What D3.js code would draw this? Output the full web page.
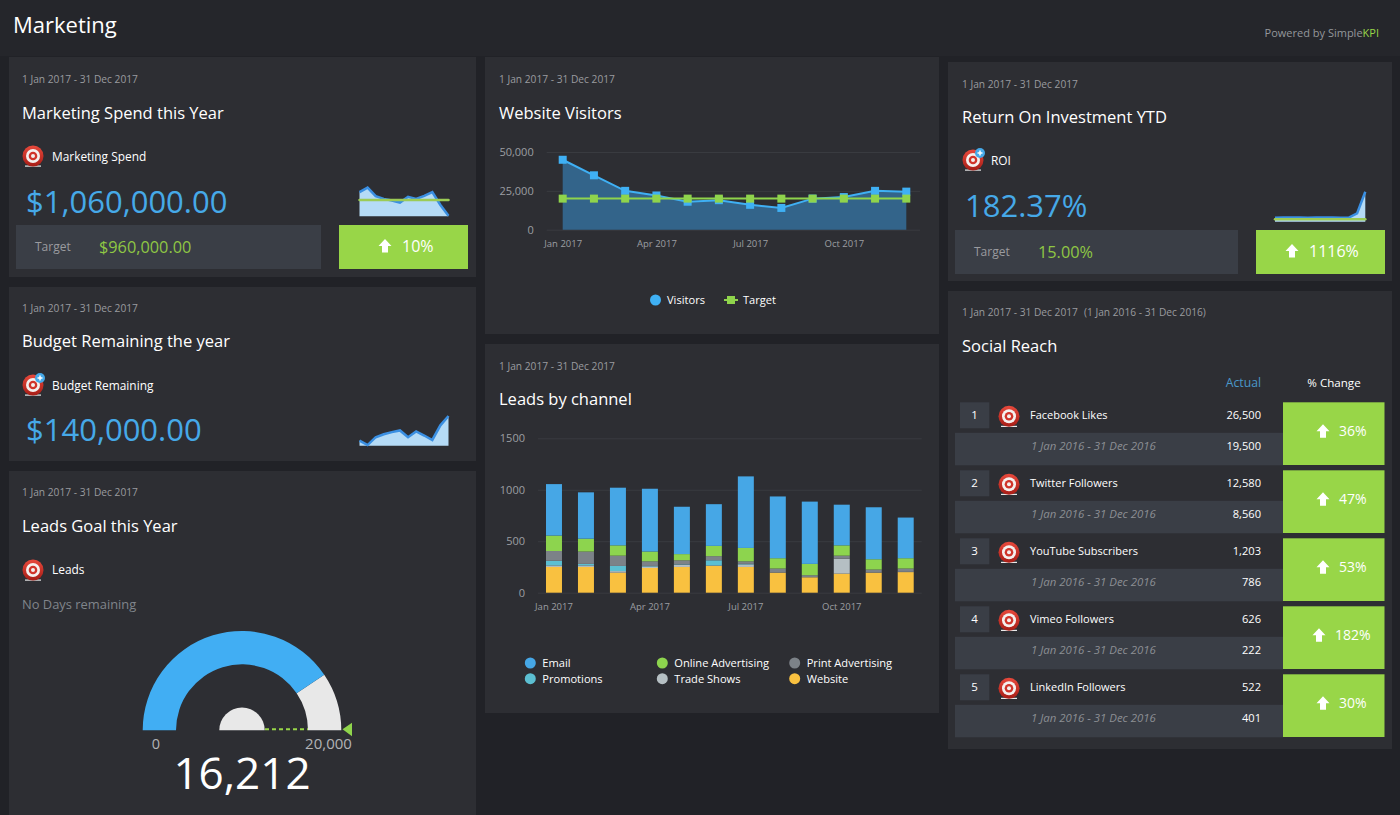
<!DOCTYPE html>
<html>
<head>
<meta charset="utf-8">
<script src="https://cdnjs.cloudflare.com/ajax/libs/d3/7.8.5/d3.min.js"></script>
<style type="text/css">
  body{
    background: #212227;
    margin: 0px;
    overflow: hidden;
  }
  svg text{
    font-family: 'Open Sans', sans-serif;
  }
  .axis text{
    fill: #9c9ea2;
    font-size: 11px;
    font-family: 'Open Sans', sans-serif;
  }
  .axis.months text{
    font-size: 9.5px;
  }
  .axis .domain{
    display: none;
  }
  .grid line{
    stroke: #393b40;
  }
</style>
</head>
<body>

<script>

// monthly categories shared by the charts
var months = ["Jan 2017","Feb 2017","Mar 2017","Apr 2017","May 2017","Jun 2017","Jul 2017","Aug 2017","Sep 2017","Oct 2017","Nov 2017","Dec 2017"];
var quarterTicks = ["Jan 2017","Apr 2017","Jul 2017","Oct 2017"];

// website visitors
var visitors = [45000,35000,25000,22000,18000,19000,16000,14000,20000,21000,25000,24500];
var visitorsTarget = [20000,20000,20000,20000,20000,20000,20000,20000,20000,20000,20000,20000];
var visitorTicks = [0,25000,50000];

// leads by channel
var leadChannels = ["Website","Trade Shows","Promotions","Print Advertising","Online Advertising","Email"];
var leadsWebsite = [250,250,195,240,250,260,250,195,150,185,195,200];
var leadsTrade = [15,15,15,15,20,5,25,0,0,145,0,5];
var leadsPromo = [45,15,50,5,5,50,5,0,0,0,0,0];
var leadsPrint = [95,120,100,45,40,40,25,40,20,30,30,30];
var leadsOnline = [150,125,100,95,60,100,130,100,110,100,100,100];
var leadsEmail = [500,450,560,610,460,405,695,600,605,395,505,395];
var leadTicks = [0,500,1000,1500];

// sparklines
var spendSpark = [118,140,98,85,77,67,95,85,100,118,55,3];
var spendTarget = [80,80,80,80,80,80,80,80,80,80,80,80];
var budgetSpark = [24,3,40,54,64,72,40,67,48,27,96,140];
var roiSpark = [24,25,26,25,24,25,26,25,24,25,50,182];
var roiTarget = [15,15,15,15,15,15,15,15,15,15,15,15];

// gauge
var gaugeValue = 16212;
var gaugeMax = 20000;

// social reach
var socialNames = ["Facebook Likes","Twitter Followers","YouTube Subscribers","Vimeo Followers","LinkedIn Followers"];
var socialActual = ["26,500","12,580","1,203","626","522"];
var socialPrior = ["19,500","8,560","786","222","401"];
var socialChange = ["36%","47%","53%","182%","30%"];

var blue = "#46a9e8";
var green = "#98d648";
var textGrey = "#9a9b9f";
var titleSize = 16.5;
var dateSize = 10.2;

var channelColor = d3.scaleOrdinal()
    .domain(leadChannels)
    .range(["#f9c140","#b5bfc3","#5cbfd2","#7c8288","#8dd44e","#46a7e6"]);

var svg = d3.select("body").append("svg")
    .attr("width", 1400)
    .attr("height", 815);

var defs = svg.append("defs");
var iconGrad = defs.append("linearGradient")
    .attr("id", "iconGrad")
    .attr("x1", 0).attr("x2", 0).attr("y1", 0).attr("y2", 1);
iconGrad.append("stop").attr("offset", "0%").attr("stop-color", "#e8493c");
iconGrad.append("stop").attr("offset", "100%").attr("stop-color", "#a71d16");

function rect(x, y, w, h, fill) {
  return svg.append("rect")
      .attr("x", x).attr("y", y)
      .attr("width", w).attr("height", h)
      .attr("fill", fill);
}

function label(x, y, str, size, fill, anchor) {
  return svg.append("text")
      .attr("x", x).attr("y", y)
      .attr("font-size", size)
      .attr("fill", fill)
      .attr("text-anchor", anchor || "start")
      .text(str);
}

function targetIcon(x, y, plus) {
  var g = svg.append("g").attr("transform", "translate(" + x + "," + y + ")");
  g.append("rect").attr("x", -8).attr("y", 9.5).attr("width", 16).attr("height", 1.2).attr("fill", "#e9e9e9");
  g.append("circle").attr("r", 10.5).attr("fill", "url(#iconGrad)");
  g.append("circle").attr("r", 7).attr("fill", "#f4f0ee");
  g.append("circle").attr("r", 4.3).attr("fill", "#d0342a");
  g.append("circle").attr("r", 2).attr("fill", "#f4f0ee");
  if (plus) {
    g.append("circle").attr("cx", 7).attr("cy", -7).attr("r", 5).attr("fill", "#46a9e8");
    g.append("path").attr("d", "M4.5,-7H9.5M7,-9.5V-4.5").attr("stroke", "white").attr("stroke-width", 1.5);
  }
}

function upArrow(x, y) {
  svg.append("path")
      .attr("transform", "translate(" + x + "," + y + ")")
      .attr("d", d3.line()([[0,-7],[6.5,0],[3,0],[3,6.5],[-3,6.5],[-3,0],[-6.5,0]]) + "Z")
      .attr("fill", "white");
}

function sparkline(values, target, x0, x1, yBase, height, maxValue) {
  var x = d3.scalePoint().domain(months).range([x0, x1]);
  var y = d3.scaleLinear().domain([0, maxValue]).range([yBase, yBase - height]);

  svg.append("path")
      .datum(values)
      .attr("fill", "#b5dbf6")
      .attr("d", d3.area()
        .x(function(d,i) { return x(months[i]); })
        .y0(yBase)
        .y1(function(d) { return y(d); }));

  svg.append("path")
      .datum(values)
      .attr("fill", "none")
      .attr("stroke", "#3a8fe2")
      .attr("stroke-width", 2.5)
      .attr("d", d3.line()
        .x(function(d,i) { return x(months[i]); })
        .y(function(d) { return y(d); }));

  if (target) {
    svg.append("path")
        .datum(target)
        .attr("fill", "none")
        .attr("stroke", "#9ccb55")
        .attr("stroke-width", 2.5)
        .attr("stroke-linecap", "round")
        .attr("d", d3.line()
          .x(function(d,i) { return x(months[i]); })
          .y(function(d) { return y(d); }));
  }
}

// page header
rect(0, 0, 1400, 56, "#25262b");
label(13, 33, "Marketing", 22, "white");
var powered = label(1379, 37, "Powered by Simple", 11, "#94979b", "end");
powered.append("tspan").attr("fill", "#98d648").text("KPI");

// panels
rect(9, 57, 467, 220, "#2d2e33");
rect(9, 287, 467, 174, "#2d2e33");
rect(9, 471, 467, 344, "#2d2e33");
rect(485, 57, 454, 277, "#2d2e33");
rect(485, 344, 454, 369, "#2d2e33");
rect(948, 62, 444, 219, "#2d2e33");
rect(948, 291, 444, 458, "#2d2e33");

// marketing spend
label(22, 83, "1 Jan 2017 - 31 Dec 2017", dateSize, textGrey);
label(22, 119, "Marketing Spend this Year", titleSize, "white");
targetIcon(33, 156, false);
label(52, 161, "Marketing Spend", 11.9, "white");
label(26, 213, "$1,060,000.00", 31, blue);
sparkline(spendSpark, spendTarget, 359.5, 448.5, 216.3, 28.7, 140);
rect(16, 225, 305, 44, "#3a3e46");
label(35, 251, "Target", 12, textGrey);
label(99, 253, "$960,000.00", 16.3, "#8fc744");
rect(339, 225, 129, 44, green);
upArrow(385, 246);
label(402, 252, "10%", 16, "white");

// budget remaining
label(22, 312, "1 Jan 2017 - 31 Dec 2017", dateSize, textGrey);
label(22, 347, "Budget Remaining the year", titleSize, "white");
targetIcon(33, 385, true);
label(52, 390, "Budget Remaining", 11.9, "white");
label(26, 441, "$140,000.00", 31, blue);
sparkline(budgetSpark, null, 359.5, 448.5, 445.7, 29.7, 140);

// leads gauge
label(22, 496, "1 Jan 2017 - 31 Dec 2017", dateSize, textGrey);
label(22, 532, "Leads Goal this Year", titleSize, "white");
targetIcon(33, 570, false);
label(52, 574, "Leads", 11.9, "white");
label(22, 609, "No Days remaining", 12.9, "#80858b");

var gaugeCx = 242;
var gaugeCy = 730.3;
var gaugeAngle = d3.scaleLinear().domain([0, gaugeMax]).range([-Math.PI / 2, Math.PI / 2]);
var gaugeArc = d3.arc().innerRadius(66).outerRadius(99.3);
var gauge = svg.append("g").attr("transform", "translate(" + gaugeCx + "," + gaugeCy + ")");

gauge.append("path")
    .attr("fill", "#e8e8e8")
    .attr("d", gaugeArc({startAngle: gaugeAngle(gaugeValue), endAngle: gaugeAngle(gaugeMax)}));
gauge.append("path")
    .attr("fill", "#41aef3")
    .attr("d", gaugeArc({startAngle: gaugeAngle(0), endAngle: gaugeAngle(gaugeValue)}));
gauge.append("path")
    .attr("fill", "#e8e8e8")
    .attr("d", d3.arc().innerRadius(0).outerRadius(22.7)({startAngle: gaugeAngle(0), endAngle: gaugeAngle(gaugeMax)}));
gauge.append("line")
    .attr("x1", 23).attr("x2", 66).attr("y1", -1).attr("y2", -1)
    .attr("stroke", "#98d648")
    .attr("stroke-width", 2)
    .attr("stroke-dasharray", "4,3");
gauge.append("path")
    .attr("d", "M100.5,-1L110,-7.5V6Z")
    .attr("fill", "#8fd44c");

label(156, 749, "0", 14.5, "#b2b3b6", "middle");
label(328.5, 749, "20,000", 15, "#b2b3b6", "middle");
label(242, 789, d3.format(",")(gaugeValue), 44, "white", "middle");

// website visitors
label(499, 83, "1 Jan 2017 - 31 Dec 2017", dateSize, textGrey);
label(499, 119, "Website Visitors", titleSize, "white");

var visX = d3.scalePoint().domain(months).range([562.7, 906.3]);
var visY = d3.scaleLinear().domain([0, 50000]).range([229.7, 152]);

svg.append("g")
    .attr("class", "axis grid")
    .attr("transform", "translate(546.7,0)")
    .call(d3.axisLeft(visY).tickValues(visitorTicks).tickFormat(d3.format(",")).tickSize(-373.3).tickPadding(13));
svg.append("g")
    .attr("class", "axis months")
    .attr("transform", "translate(0,229.7)")
    .call(d3.axisBottom(visX).tickValues(quarterTicks).tickSize(0).tickPadding(11));

svg.append("path")
    .datum(visitors)
    .attr("fill", "#33648a")
    .attr("d", d3.area()
      .x(function(d,i) { return visX(months[i]); })
      .y0(visY(0))
      .y1(function(d) { return visY(d); }));
svg.append("path")
    .datum(visitors)
    .attr("fill", "none")
    .attr("stroke", "#3fb0f4")
    .attr("stroke-width", 2)
    .attr("d", d3.line()
      .x(function(d,i) { return visX(months[i]); })
      .y(function(d) { return visY(d); }));
svg.selectAll(".visDot")
    .data(visitors)
    .enter().append("rect")
    .attr("class", "visDot")
    .attr("x", function(d,i) { return visX(months[i]) - 4; })
    .attr("y", function(d) { return visY(d) - 4; })
    .attr("width", 8).attr("height", 8)
    .attr("fill", "#3fb0f4");
svg.append("path")
    .datum(visitorsTarget)
    .attr("fill", "none")
    .attr("stroke", "#8fd44c")
    .attr("stroke-width", 2)
    .attr("d", d3.line()
      .x(function(d,i) { return visX(months[i]); })
      .y(function(d) { return visY(d); }));
svg.selectAll(".tgtDot")
    .data(visitorsTarget)
    .enter().append("rect")
    .attr("class", "tgtDot")
    .attr("x", function(d,i) { return visX(months[i]) - 4; })
    .attr("y", function(d) { return visY(d) - 4; })
    .attr("width", 8).attr("height", 8)
    .attr("fill", "#8fd44c");

svg.append("circle").attr("cx", 655.5).attr("cy", 300).attr("r", 5.5).attr("fill", "#3fb0f4");
label(667, 304, "Visitors", 11.1, "white");
svg.append("line").attr("x1", 724).attr("x2", 738).attr("y1", 300).attr("y2", 300).attr("stroke", "#8fd44c").attr("stroke-width", 2);
rect(727, 296, 8, 8, "#8fd44c");
label(743, 304, "Target", 11.1, "white");

// leads by channel
label(499, 370, "1 Jan 2017 - 31 Dec 2017", dateSize, textGrey);
label(499, 405, "Leads by channel", titleSize, "white");

var leadX = d3.scaleBand().domain(months).range([538, 921.7]).paddingInner(0.5).paddingOuter(0.25);
var leadY = d3.scaleLinear().domain([0, 1500]).range([592.7, 438.3]);

svg.append("g")
    .attr("class", "axis grid")
    .attr("transform", "translate(538,0)")
    .call(d3.axisLeft(leadY).tickValues(leadTicks).tickFormat(d3.format("d")).tickSize(-383.7).tickPadding(13));
svg.append("g")
    .attr("class", "axis months")
    .attr("transform", "translate(0,592.7)")
    .call(d3.axisBottom(leadX).tickValues(quarterTicks).tickSize(0).tickPadding(11));

var leadRows = months.map(function(m, i) {
  return {
    month: m,
    "Website": leadsWebsite[i],
    "Trade Shows": leadsTrade[i],
    "Promotions": leadsPromo[i],
    "Print Advertising": leadsPrint[i],
    "Online Advertising": leadsOnline[i],
    "Email": leadsEmail[i]
  };
});

svg.append("g").selectAll("g")
    .data(d3.stack().keys(leadChannels)(leadRows))
    .enter().append("g")
    .attr("fill", function(d) { return channelColor(d.key); })
    .selectAll("rect")
    .data(function(d) { return d; })
    .enter().append("rect")
    .attr("x", function(d) { return leadX(d.data.month); })
    .attr("y", function(d) { return leadY(d[1]); })
    .attr("width", leadX.bandwidth())
    .attr("height", function(d) { return leadY(d[0]) - leadY(d[1]); });

var legendOrder = ["Email","Online Advertising","Print Advertising","Promotions","Trade Shows","Website"];
var legendColX = d3.scaleOrdinal().domain([0,1,2]).range([530.3, 662.3, 794.7]);
var legendRowY = d3.scaleOrdinal().domain([0,1]).range([663, 678.7]);

legendOrder.forEach(function(name, i) {
  var cx = legendColX(i % 3);
  var cy = legendRowY(Math.floor(i / 3));
  svg.append("circle").attr("cx", cx).attr("cy", cy).attr("r", 5.5).attr("fill", channelColor(name));
  label(cx + 12, cy + 4, name, 11.1, "white");
});

// return on investment
label(962, 88, "1 Jan 2017 - 31 Dec 2017", dateSize, textGrey);
label(962, 123, "Return On Investment YTD", titleSize, "white");
targetIcon(973, 160, true);
label(991, 165, "ROI", 11.9, "white");
label(965, 217, "182.37%", 31, blue);
sparkline(roiSpark, roiTarget, 1275, 1365.3, 221.7, 30, 182);
rect(955, 230, 283, 44, "#3a3e46");
label(974, 256, "Target", 12, textGrey);
label(1038, 258, "15.00%", 16.3, "#8fc744");
rect(1256, 230, 129, 44, green);
upArrow(1292, 251);
label(1309, 257, "1116%", 16, "white");

// social reach
label(962, 316, "1 Jan 2017 - 31 Dec 2017", dateSize, textGrey);
label(1084, 316, "(1 Jan 2016 - 31 Dec 2016)", dateSize, textGrey);
label(962, 352, "Social Reach", titleSize, "white");
label(1261, 387, "Actual", 12.2, "#4a97c9", "end");
label(1334, 387, "% Change", 11.6, "white", "middle");

var rowY = d3.scaleBand().domain(socialNames).range([402.3, 402.3 + 68 * 5]);

socialNames.forEach(function(name, i) {
  var y = rowY(name);
  rect(960, y, 29.3, 26, "#3a3e46");
  label(974.5, y + 17, i + 1, 11.5, "white", "middle");
  targetIcon(1009, y + 14, false);
  label(1030, y + 17, name, 11, "white");
  label(1261, y + 17, socialActual[i], 11.1, "white", "end");

  rect(955, y + 30.5, 328, 32.5, "#3a3e46");
  label(1031, y + 48, "1 Jan 2016 - 31 Dec 2016", 11.4, "#8c8f94").attr("font-style", "italic");
  label(1261, y + 48, socialPrior[i], 11.1, "white", "end");

  rect(1283, y, 101.5, 62.7, green);
  var wide = socialChange[i].length > 3 ? 4 : 0;
  upArrow(1323 - wide, y + 29);
  label(1339 - wide, y + 34, socialChange[i], 14, "white");
});

</script>

</body>
</html>
